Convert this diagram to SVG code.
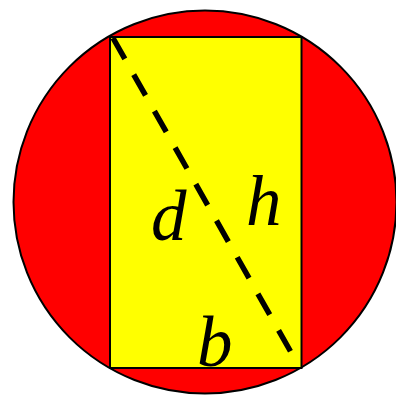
<svg xmlns="http://www.w3.org/2000/svg" width="396" height="395" viewBox="0 0 396 395">
<style>
.lbl{font-family:"Liberation Serif","Times New Roman",serif;font-style:italic;font-size:71px;fill:#000}
</style>
<rect width="396" height="395" fill="#fff"/>
<g id="circle"><circle cx="205" cy="202" r="191.5" fill="#ff0000" stroke="#000" stroke-width="2"/></g>
<g id="rectangle"><rect x="110" y="37" width="191.5" height="331" fill="#ffff00" stroke="#000" stroke-width="2"/></g>
<g id="connectors"><line x1="113" y1="38" x2="292" y2="354" stroke="#000" stroke-width="5.5" stroke-dasharray="24 18"/></g>
<g id="labels">
<text class="lbl" x="151" y="240">d</text>
<text class="lbl" x="246" y="225">h</text>
<text class="lbl" x="197" y="366">b</text>
</g>
</svg>
